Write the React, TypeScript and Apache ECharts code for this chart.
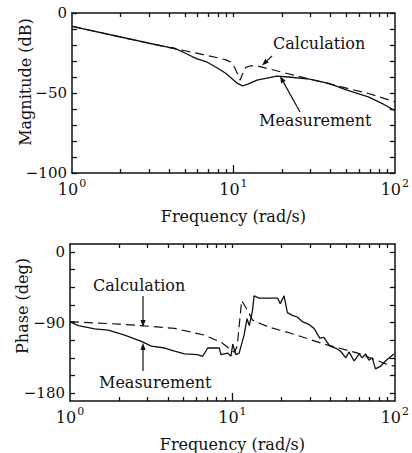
import React, { useEffect, useRef } from "react";
import * as echarts from "echarts";

// ---------- data ----------
// Magnitude (dB) vs frequency (rad/s)
const magCalcFreq = [1, 1.5, 2, 3, 4, 5, 6.5, 8, 9, 9.6, 10.1, 10.6, 11, 11.4, 11.9, 12.8, 14, 20, 29.6, 40, 68.5, 100];
const magCalcVal = [-8.3, -12.2, -15, -18.9, -21.6, -23.6, -26, -28, -29.3, -30.6, -33.5, -38, -42, -38, -34, -33, -33, -37, -41.3, -44.5, -50.3, -55.5];
const magMeasFreq = [1, 2, 3, 4, 4.27, 5, 5.9, 6.8, 8, 9, 10.6, 11.4, 12.3, 14, 18.6, 22, 29.6, 39, 50, 68.5, 85, 100];
const magMeasVal = [-8.3, -15, -18.9, -21.5, -21.8, -25, -28.5, -30.5, -34.5, -37.8, -44, -45.5, -44.5, -42, -39.5, -40, -41.3, -44, -48, -52.4, -57, -61];

// Phase (deg) vs frequency (rad/s)
const phCalcFreq = [1, 2, 2.75, 4.4, 6.7, 8.5, 9.8, 10.3, 10.7, 11.0, 11.4, 12.4, 13.3, 16.5, 22.9, 36.7, 58.5, 93.5, 100];
const phCalcVal = [-89, -92, -94, -97.5, -106, -115, -124.6, -128, -120, -95, -62, -74.6, -87, -95.4, -103.7, -117.5, -128.7, -144.6, -145.5];
const phMeasFreq = [1, 1.125, 1.42, 1.72, 2.17, 2.75, 3.17, 3.83, 4.4, 5.07, 6.1, 6.56, 7.05, 8.3, 8.5, 9.35, 9.8, 10.05, 10.5, 11, 11.8, 12.3, 12.7, 13.3, 13.6, 14.6, 19, 19.7, 20.8, 21.8, 23.4, 25.1, 27, 29.6, 31.8, 34.5, 36.6, 39.8, 43.1, 46.4, 49.9, 52.2, 56.2, 60.3, 63, 66, 69.3, 72.6, 76, 81.9, 87.6, 98.6];
const phMeasVal = [-89, -94, -98, -99.6, -106, -114, -120, -122.5, -126.6, -130, -131, -133, -122.5, -122.5, -131, -129, -133, -117.5, -131, -129, -106, -85, -94, -74.6, -56, -59, -59, -66, -56, -77.5, -81, -83, -89, -92.5, -97.5, -110, -109, -120, -122.5, -126.6, -135, -127.5, -139, -130, -135, -130, -138, -135, -149, -145.5, -139, -130];

// tick labels
const decadeExponents = [0, 1, 2];
const magTickLabels = [0, -50, -100];
const magTicks = [0, -10, -20, -30, -40, -50, -60, -70, -80, -90, -100];
const phaseTickLabels = [0, -90, -180];
const phaseMinorTicks = [0, -22.5, -45, -67.5, -90, -112.5, -135, -157.5, -180];
const minorFreqs = [2, 3, 4, 5, 6, 7, 8, 9, 20, 30, 40, 50, 60, 70, 80, 90];

// ---------- helpers ----------
const FONT = "'DejaVu Serif', 'Liberation Serif', serif";
const INK = "#111";
const lg = (f: number) => Math.log10(f);
const pair = (fs: number[], vs: number[]) => fs.map((f, i) => [lg(f), vs[i]]);
const minorTickVals = minorFreqs.map(lg);
const fmtY = (v: number) => (v === 0 ? "0" : "\u2212" + Math.abs(v));

function arrow(x1: number, y1: number, x2: number, y2: number) {
  const dx = x2 - x1, dy = y2 - y1;
  const L = Math.hypot(dx, dy);
  const ux = dx / L, uy = dy / L;
  const hl = 7, hw = 2.6;
  const bx = x2 - ux * hl, by = y2 - uy * hl;
  return [
    { type: "line", shape: { x1, y1, x2: bx, y2: by }, style: { stroke: INK, lineWidth: 1.2 } },
    {
      type: "polygon",
      shape: { points: [[x2, y2], [bx - uy * hw, by + ux * hw], [bx + uy * hw, by - ux * hw]] },
      style: { fill: INK },
    },
  ];
}

const tickStyle = { color: INK, width: 1.3 };

function xAxes(grid: number) {
  const base = {
    gridIndex: grid,
    type: "value",
    min: 0,
    max: 2,
    splitLine: { show: false },
  };
  return [
    {
      ...base,
      position: "bottom",
      axisLine: { show: true, onZero: false, lineStyle: { color: INK, width: 1.5 } },
      axisTick: { show: true, inside: true, length: 8, customValues: [1], lineStyle: tickStyle },
      axisLabel: {
        show: true,
        customValues: decadeExponents,
        margin: 5,
        formatter: (v: number) => `{b|10}{s|${Math.round(v)}}`,
        rich: {
          b: { fontFamily: FONT, fontSize: 16, color: INK, verticalAlign: "bottom" },
          s: { fontFamily: FONT, fontSize: 11, color: INK, verticalAlign: "bottom", padding: [0, 0, 8, 1] },
        },
      },
      name: "Frequency (rad/s)",
      nameLocation: "middle",
      nameGap: 35,
      nameTextStyle: { fontFamily: FONT, fontSize: 16, color: INK },
    },
    {
      ...base,
      position: "bottom",
      axisLine: { show: false, onZero: false },
      axisTick: { show: true, inside: true, length: 4, customValues: minorTickVals, lineStyle: tickStyle },
      axisLabel: { show: false },
    },
    {
      ...base,
      position: "top",
      axisLine: { show: true, onZero: false, lineStyle: { color: INK, width: 1.5 } },
      axisTick: { show: true, inside: true, length: 4, customValues: [...minorTickVals, 1], lineStyle: tickStyle },
      axisLabel: { show: false },
    },
  ];
}

function yAxes(grid: number, min: number, max: number, labels: number[], ticks: number[]) {
  const base: any = {
    gridIndex: grid,
    type: "value",
    min,
    max,
    splitLine: { show: false },
  };
  const tick: any = { show: true, inside: true, length: 5, customValues: ticks, lineStyle: tickStyle };
  return [
    {
      ...base,
      position: "left",
      axisLine: { show: true, onZero: false, lineStyle: { color: INK, width: 1.5 } },
      axisTick: tick,
      axisLabel: { show: true, customValues: labels, formatter: fmtY, fontFamily: FONT, fontSize: 15, color: INK, margin: 5 },
    },
    {
      ...base,
      position: "right",
      axisLine: { show: true, onZero: false, lineStyle: { color: INK, width: 1.5 } },
      axisTick: tick,
      axisLabel: { show: false },
    },
  ];
}

const solid = { color: INK, width: 1.3, type: "solid" };
const dashed = { color: INK, width: 1.2, type: [9, 5] };

export default function App() {
  const ref = useRef<HTMLDivElement>(null);
  useEffect(() => {
    if (!ref.current) return;
    const chart = echarts.init(ref.current, undefined, { renderer: "svg" });
    const label = (text: string, x: number, y: number, extra: any = {}) => ({
      type: "text",
      x,
      y,
      ...extra,
      style: { text, fontFamily: FONT, fontSize: 16, fill: INK, verticalAlign: "middle", align: extra.align || "left" },
    });
    chart.setOption({
      animation: false,
      backgroundColor: "#fff",
      grid: [
        { left: 72, top: 13, width: 328, height: 160 },
        { left: 70, top: 244, width: 326, height: 160 },
      ],
      xAxis: [...xAxes(0), ...xAxes(1)],
      yAxis: [
        ...yAxes(0, -100, 0, magTickLabels, magTicks),
        ...yAxes(1, -190, 10, phaseTickLabels, phaseMinorTicks),
      ],
      series: [
        { name: "Calculation", type: "line", xAxisIndex: 0, yAxisIndex: 0, data: pair(magCalcFreq, magCalcVal), showSymbol: false, lineStyle: dashed },
        { name: "Measurement", type: "line", xAxisIndex: 0, yAxisIndex: 0, data: pair(magMeasFreq, magMeasVal), showSymbol: false, lineStyle: solid },
        { name: "Calculation", type: "line", xAxisIndex: 3, yAxisIndex: 2, data: pair(phCalcFreq, phCalcVal), showSymbol: false, lineStyle: dashed },
        { name: "Measurement", type: "line", xAxisIndex: 3, yAxisIndex: 2, data: pair(phMeasFreq, phMeasVal), showSymbol: false, lineStyle: solid },
      ],
      graphic: [
        label("Magnitude (dB)", 25, 82, { rotation: Math.PI / 2, align: "center" }),
        label("Phase (deg)", 22, 306, { rotation: Math.PI / 2, align: "center" }),
        label("Calculation", 273, 43),
        ...arrow(272, 56, 262, 65.5),
        label("Measurement", 259, 120),
        ...arrow(300, 112, 280, 76),
        label("Calculation", 93, 285),
        ...arrow(143, 296, 143, 327),
        label("Measurement", 99, 382),
        ...arrow(143, 371, 143, 343),
      ],
    });
    return () => chart.dispose();
  }, []);
  return <div ref={ref} style={{ position: "fixed", left: 0, top: 0, width: 412, height: 453, background: "#fff" }} />;
}
